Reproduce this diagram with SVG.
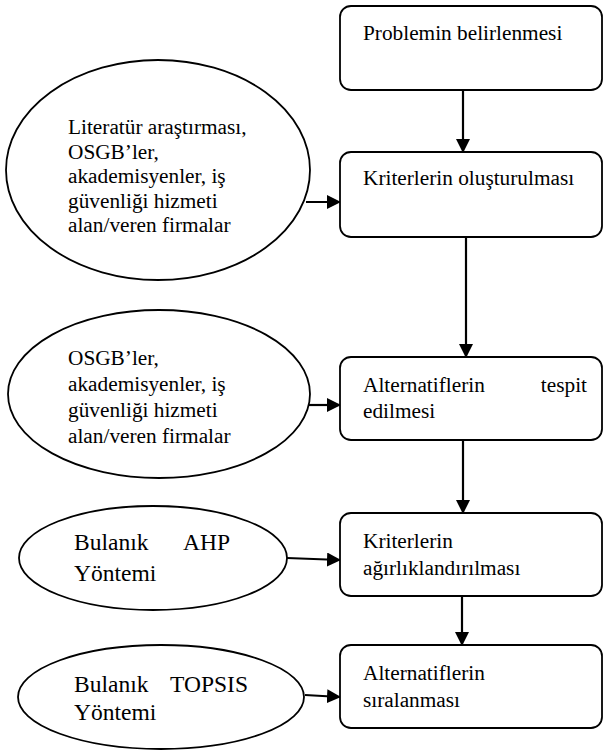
<svg xmlns="http://www.w3.org/2000/svg" width="605" height="751" viewBox="0 0 605 751">
<style>
.box{fill:#fff;stroke:#000;stroke-width:1.8}
.ell{fill:#fff;stroke:#000;stroke-width:1.8}
.t{font-family:"Liberation Serif","Times New Roman","DejaVu Serif",serif;font-size:21.3px;fill:#000}
.big{font-size:23.5px}
.c{stroke:#000;stroke-width:2.2;fill:none}
</style>
<defs>
<marker id="ah" markerUnits="userSpaceOnUse" markerWidth="14" markerHeight="14" refX="13" refY="7" orient="auto" viewBox="0 0 14 14">
<path d="M0,0 L14,7 L0,14 z" fill="#000"/>
</marker>
</defs>
<rect width="605" height="751" fill="#fff"/>
<g id="connectors">
<line class="c" x1="463" y1="90" x2="463" y2="152" marker-end="url(#ah)"/>
<line class="c" x1="466" y1="237" x2="466" y2="357" marker-end="url(#ah)"/>
<line class="c" x1="463" y1="440" x2="463" y2="513" marker-end="url(#ah)"/>
<line class="c" x1="462" y1="596" x2="462" y2="645" marker-end="url(#ah)"/>
<line class="c" x1="306" y1="202" x2="340" y2="202" marker-end="url(#ah)"/>
<line class="c" x1="309" y1="405" x2="340" y2="405" marker-end="url(#ah)"/>
<line class="c" x1="287" y1="558" x2="340" y2="560" marker-end="url(#ah)"/>
<line class="c" x1="305" y1="695" x2="340" y2="697" marker-end="url(#ah)"/>
</g>
<g id="box1">
<rect class="box" x="340" y="6" width="262" height="84" rx="11"/>
<text class="t" x="363" y="40">Problemin belirlenmesi</text>
</g>
<g id="box2">
<rect class="box" x="340" y="152" width="262" height="85" rx="11"/>
<text class="t" x="363" y="185">Kriterlerin oluşturulması</text>
</g>
<g id="box3">
<rect class="box" x="340" y="357" width="262" height="83" rx="11"/>
<text class="t" x="363" y="392">Alternatiflerin</text>
<text class="t" x="587" y="392" text-anchor="end">tespit</text>
<text class="t" x="363" y="418">edilmesi</text>
</g>
<g id="box4">
<rect class="box" x="340" y="513" width="262" height="83" rx="11"/>
<text class="t" x="363" y="548">Kriterlerin</text>
<text class="t" x="363" y="575">ağırlıklandırılması</text>
</g>
<g id="box5">
<rect class="box" x="340" y="645" width="262" height="83" rx="11"/>
<text class="t" x="363" y="680">Alternatiflerin</text>
<text class="t" x="363" y="707">sıralanması</text>
</g>
<g id="ell1">
<ellipse class="ell" cx="158" cy="170" rx="152" ry="110"/>
<text class="t" x="68" y="134">Literatür araştırması,</text>
<text class="t" x="68" y="159">OSGB’ler,</text>
<text class="t" x="68" y="183">akademisyenler,  iş</text>
<text class="t" x="68" y="208">güvenliği hizmeti</text>
<text class="t" x="68" y="232">alan/veren firmalar</text>
</g>
<g id="ell2">
<ellipse class="ell" cx="159" cy="394" rx="151" ry="84"/>
<text class="t" x="68" y="365">OSGB’ler,</text>
<text class="t" x="68" y="391">akademisyenler, iş</text>
<text class="t" x="68" y="417">güvenliği hizmeti</text>
<text class="t" x="68" y="443">alan/veren firmalar</text>
</g>
<g id="ell3">
<ellipse class="ell" cx="153" cy="558" rx="134" ry="52"/>
<text class="t big" x="74" y="550">Bulanık</text>
<text class="t big" x="230" y="550" text-anchor="end">AHP</text>
<text class="t big" x="74" y="581">Yöntemi</text>
</g>
<g id="ell4">
<ellipse class="ell" cx="161" cy="697" rx="143" ry="52"/>
<text class="t big" x="74" y="692">Bulanık</text>
<text class="t big" x="248" y="692" text-anchor="end">TOPSIS</text>
<text class="t big" x="74" y="720">Yöntemi</text>
</g>
</svg>
